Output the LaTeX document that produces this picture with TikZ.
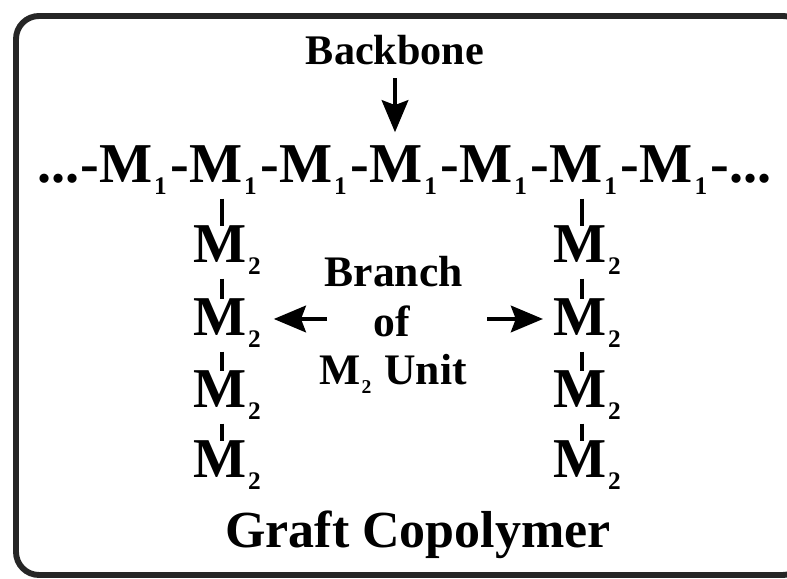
\documentclass[tikz,border=0pt]{standalone}
\usepackage{fontspec}
\setmainfont{Liberation Serif}
\usepackage{graphicx}
\usetikzlibrary{positioning, arrows.meta}
\newcommand{\sub}[1]{\kern0.03em\raisebox{-0.2em}{\scalebox{0.45}{#1}}\kern0.05em}

\begin{document}
\begin{tikzpicture}[
    unit/.style={inner sep=0pt, font=\fontsize{40}{40}\selectfont\bfseries},
    caption/.style={inner sep=0pt, font=\fontsize{31}{31}\selectfont\bfseries},
    bond/.style={line width=2.8pt, shorten <=0.1cm},
    pointer/.style={line width=3.2pt, -{Stealth[length=0.8cm, width=0.66cm, inset=0.12cm]}}
  ]
    \useasboundingbox (0,0) rectangle (19.675,14.475);

    % Frame
    \draw[line width=4.2pt, black!85, rounded corners=0.575cm] (0.4,0.1) rectangle (20.15,14.075);

    % Backbone chain
    \node[unit, anchor=base west] (dl) at (0.925,9.9) {...};
    \node[unit, base right=0pt of dl] (h1) {-};
    \foreach \i [evaluate=\i as \j using int(\i+1)] in {1,...,7} {
      \node[unit, base right=0pt of h\i] (m\i) {M\sub{1}};
      \node[unit, base right=0pt of m\i] (h\j) {-};
    }
    \node[unit, base right=0pt of h8] (dr) {...};

    % Label of the backbone
    \node[caption, font=\fontsize{30}{30}\selectfont\bfseries, anchor=base] (bb) at (9.875,12.85) {Backbone};
    \draw[pointer, shorten <=0.32cm, shorten >=0.34cm] (bb.south) -- (bb.south |- m4.north);

    % Branches of M2
    \foreach \y [count=\k] in {7.9,6.075,4.275,2.525} {
      \node[unit, anchor=base west] (l\k) at (4.825,\y) {M\sub{2}};
      \node[unit, anchor=base west] (r\k) at (13.825,\y) {M\sub{2}};
    }
    \foreach \a/\b in {m2/l1, l1/l2, l2/l3, l3/l4, m6/r1, r1/r2, r2/r3, r3/r4}
      \draw[bond] ([xshift=-1.5mm]\b.north |- \a.south) -- ([xshift=-1.5mm]\b.north);

    % Label of the branch
    \node[caption, anchor=base] (br1) at (9.84,7.3) {Branch};
    \node[caption, anchor=base] (br2) at (9.8,6.05) {of};
    \node[caption, anchor=base] (br3) at (9.825,4.85) {M\sub{2}\ Unit};
    \coordinate (lt) at (8.175,6.5);
    \coordinate (rt) at (12.175,6.5);
    \draw[pointer, shorten >=0.25cm] (lt) -- (l2.east |- lt);
    \draw[pointer, shorten >=0.25cm] (rt) -- (r2.west |- rt);

    % Title
    \node[caption, font=\fontsize{37}{37}\selectfont\bfseries, anchor=base] (title) at (10.45,0.775) {Graft Copolymer};
\end{tikzpicture}
\end{document}
